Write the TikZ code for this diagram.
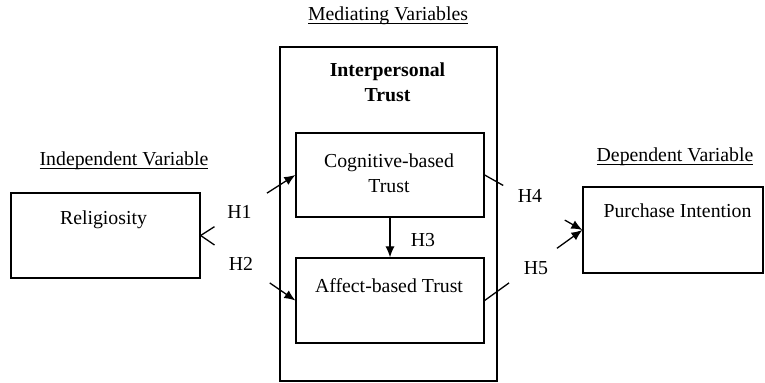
\documentclass[tikz,border=0pt]{standalone}
\usepackage{fontspec}
\setmainfont{Liberation Serif}
\usetikzlibrary{positioning,calc,arrows.meta}

\newcommand{\figfont}{\fontsize{9.9pt}{12.5pt}\selectfont}
\newcommand{\headtxt}[1]{\underline{\smash{#1}}}

\begin{document}
\begin{tikzpicture}[x=0.5pt,y=-0.5pt,
    every node/.style={font=\figfont},
    box/.style={draw,line width=0.65pt,inner sep=0pt},
    txt/.style={anchor=base,inner sep=0pt,align=center},
    link/.style={line width=0.65pt},
    arr/.style={line width=0.65pt,-{Latex[length=5.5pt,width=4.6pt]}}]

\useasboundingbox (0,0) rectangle (765,383);

% headings
\node[txt] (medhead) at (388,21) {\headtxt{Mediating Variables}};
\node[txt] (indhead) at (124,166) {\headtxt{Independent Variable}};
\node[txt] (dephead) at (675,162) {\headtxt{Dependent Variable}};

% boxes
\node[box,minimum width=94.5pt,minimum height=42.5pt] (rel) at (105.5,235.5) {};
\node[box,minimum width=108.5pt,minimum height=167pt] (trust) at (388.5,214) {};
\node[box,minimum width=94pt,minimum height=42pt] (cog) at (390,175) {};
\node[box,minimum width=94pt,minimum height=42.5pt] (aff) at (390,300.5) {};
\node[box,minimum width=90pt,minimum height=43pt] (pur) at (673,230) {};

% box texts (base = last line)
\node[txt] (reltxt) at (103.5,225) {Religiosity};
\node[txt,font=\figfont\bfseries] (trusttxt) at (387.5,102) {Interpersonal\\Trust};
\node[txt] (cogtxt) at (389,193) {Cognitive-based\\Trust};
\node[txt] (afftxt) at (389,293) {Affect-based Trust};
\node[txt] (purtxt) at (677.5,218) {Purchase Intention};

% hypotheses
\draw[link] (rel.east) -- ($(rel.east)!0.146!(cog.west)$);
\draw[arr] ($(rel.east)!0.70!(cog.west)$) -- (cog.west);
\draw[link] (rel.east) -- ($(rel.east)!0.146!(aff.west)$);
\draw[arr] ($(rel.east)!0.73!(aff.west)$) -- (aff.west);
\draw[arr] (cog.south) -- (aff.north);
\draw[link] (cog.east) -- ($(cog.east)!0.19!(pur.west)$);
\draw[arr] ($(cog.east)!0.82!(pur.west)$) -- (pur.west);
\draw[link] (aff.east) -- ($(aff.east)!0.25!(pur.west)$);
\draw[arr] ($(aff.east)!0.74!(pur.west)$) -- (pur.west);

\node[txt] (h1) at (239.5,219) {H1};
\node[txt] (h2) at (241,271) {H2};
\node[txt] (h3) at (423,247) {H3};
\node[txt] (h4) at (530,203) {H4};
\node[txt] (h5) at (536,275) {H5};

\end{tikzpicture}
\end{document}
